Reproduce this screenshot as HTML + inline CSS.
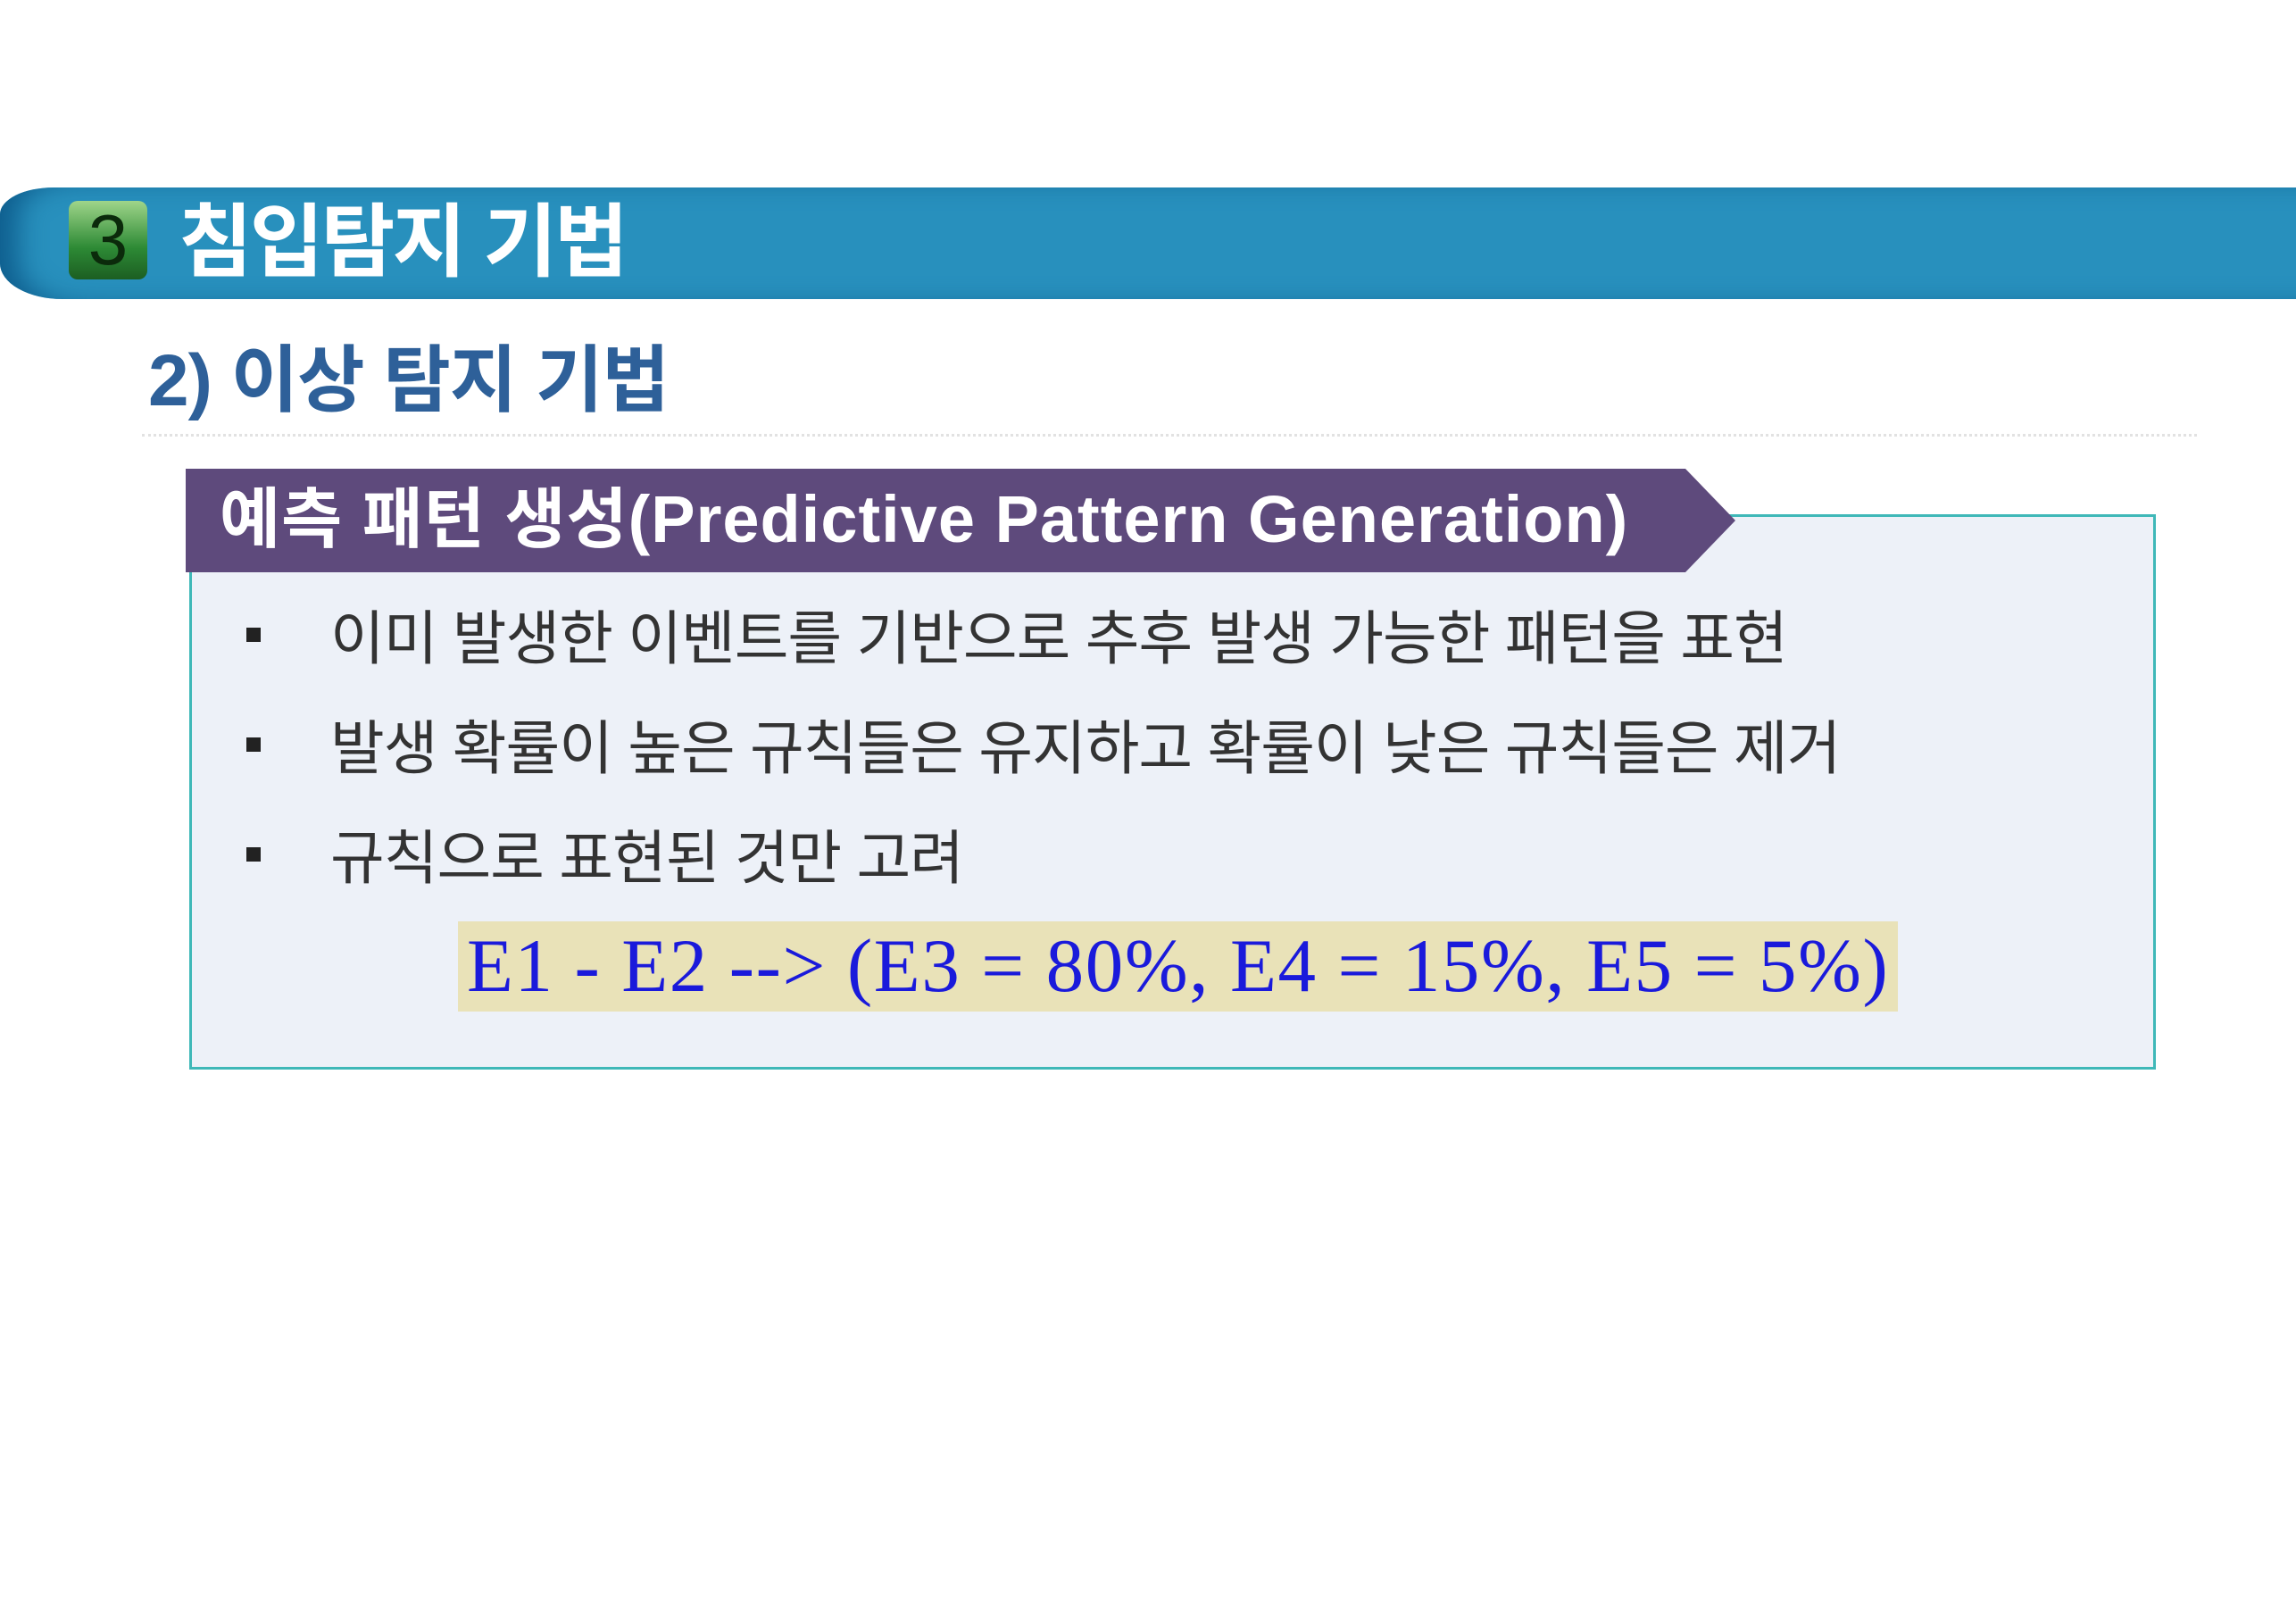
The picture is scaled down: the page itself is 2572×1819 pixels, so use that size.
<!DOCTYPE html>
<html><head><meta charset="utf-8"><style>
body{margin:0;width:2572px;height:1819px;background:#fff;position:relative;overflow:hidden;font-family:"Liberation Sans","Noto Sans CJK KR",sans-serif}
div{position:absolute;box-sizing:border-box}
</style></head><body>
<div style="left:0;top:210px;width:2572px;height:125px;background:#2890bd;border-top-left-radius:60px 30px;border-bottom-left-radius:70px 40px;box-shadow:inset 30px 0 30px -10px #0f5f8f"></div>
<div style="left:77px;top:225px;width:88px;height:88px;border-radius:10px;background:linear-gradient(#9fd58a,#2d8a35 60%,#1c5e22);color:#0b2a0b;font-size:80px;line-height:88px;text-align:center">3</div>
<div style="left:200px;top:212px;color:#fff;font-size:90px;font-weight:bold;line-height:120px;letter-spacing:-3px">침입탐지 기법</div>
<div style="left:166px;top:372px;color:#2e6099;font-size:82px;font-weight:bold;line-height:110px;letter-spacing:-1px">2) 이상 탐지 기법</div>
<div style="left:159px;top:486px;width:2302px;height:0;border-top:3px dotted #e2e2e2"></div>
<div style="left:212px;top:576px;width:2203px;height:622px;background:#edf1f8;border:3px solid #3fb8b8"></div>
<svg style="position:absolute;left:208px;top:525px" width="1740" height="116"><polygon points="0,0 1680,0 1736,58 1680,116 0,116" fill="#5e4a7c"/></svg>
<div style="left:246px;top:527px;color:#fff;font-size:74px;font-weight:bold;line-height:110px;letter-spacing:1px">예측 패턴 생성(Predictive Pattern Generation)</div>
<div style="left:276px;top:703px;width:16px;height:16px;background:#222"></div>
<div style="left:370px;top:670px;color:#333;font-size:66px;line-height:90px;letter-spacing:-1px">이미 발생한 이벤트를 기반으로 추후 발생 가능한 패턴을 표현</div>
<div style="left:276px;top:826px;width:16px;height:16px;background:#222"></div>
<div style="left:370px;top:793px;color:#333;font-size:66px;line-height:90px;letter-spacing:-1px">발생 확률이 높은 규칙들은 유지하고 확률이 낮은 규칙들은 제거</div>
<div style="left:276px;top:949px;width:16px;height:16px;background:#222"></div>
<div style="left:370px;top:916px;color:#333;font-size:66px;line-height:90px;letter-spacing:-1px">규칙으로 표현된 것만 고려</div>
<div style="left:513px;top:1032px;width:1613px;height:101px;background:#e9e2b8;color:#1a1adb;font-family:'Liberation Serif',serif;font-size:85px;line-height:101px;padding-left:10px;white-space:nowrap;letter-spacing:1.6px">E1 - E2 --&gt; (E3 = 80%, E4 = 15%, E5 = 5%)</div>
</body></html>
